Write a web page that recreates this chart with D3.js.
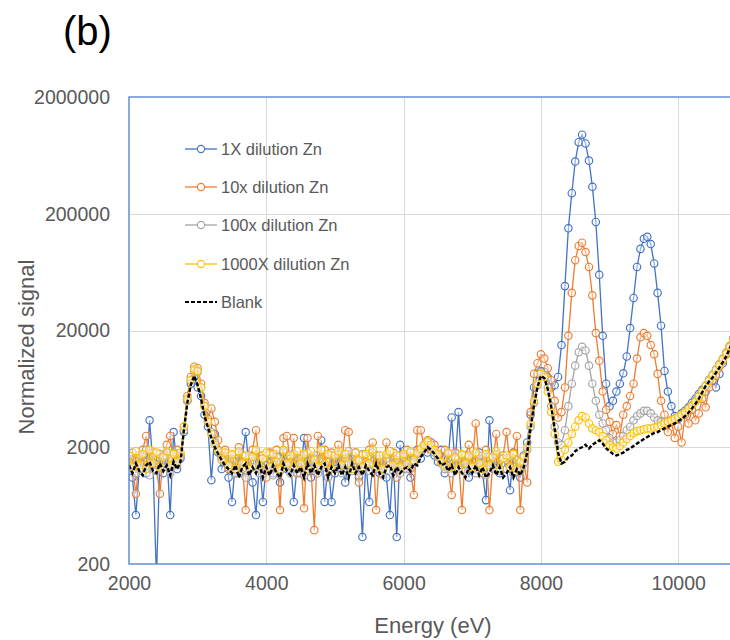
<!DOCTYPE html>
<html>
<head>
<meta charset="utf-8">
<script src="https://cdn.jsdelivr.net/npm/d3@7"></script>
<style>
  body { margin: 0; background: #fff; }
  text { font-family: "Liberation Sans", Arial, sans-serif; }
</style>
</head>
<body>
<svg id="chart" width="730" height="640"></svg>
<script>
// energy grid, 50 eV steps from 2000 to 10800 eV
const energy = d3.range(2000, 10801, 50);

// 1X dilution Zn
const zn1x = [
  1500,1100,525,1300,1700,1200,3400,1400,150,1600,
  1200,1800,525,2700,1300,1600,2700,5000,7000,8000,
  6500,5500,3800,3000,1045,2600,1800,1300,1600,1100,
  680,1500,1200,1700,2700,1300,1000,525,1500,680,
  1400,1700,1200,1500,1000,1800,1300,1600,680,1400,
  1200,2400,1500,1100,1600,1300,2300,680,1500,680,
  1200,1700,1400,1000,1600,1300,1800,1100,340,1500,
  680,1400,1700,1200,1500,1100,525,1600,340,2100,
  1300,1700,1100,1500,1900,1600,2100,1800,2200,1700,
  1500,1900,1200,1600,3600,1400,4000,1300,1700,1100,
  1500,1300,1800,1200,705,3400,1400,1700,1200,1600,
  1300,857,1800,1400,1100,1700,2200,3800,6500,8500,
  9000,8800,8000,6500,6800,8000,15000,48000,150000,300000,
  560000,820000,950000,800000,570000,340000,170000,60000,18000,7000,
  4500,5000,6000,7000,8600,12000,21000,38000,70000,100000,
  122000,127000,110000,75000,42000,22000,9000,6000,4500,3700,
  3500,3900,4100,4400,4800,5200,5700,6200,6000,7000,
  7500,6500,8500,10500,12500,14500,17000
];

// 10x dilution Zn
const zn10x = [
  1700,1400,800,1600,1900,2500,1500,1800,1300,800,
  1700,2100,2500,1400,1900,1700,3000,5500,8000,9800,
  9500,7000,4800,3500,4300,3300,2300,1600,1900,1300,
  1700,1200,2000,1500,580,1600,1900,2800,1300,1700,
  1100,1800,1400,1900,580,2400,2500,1500,2400,1200,
  1700,600,2400,1400,390,2500,1600,1900,1100,1800,
  1400,2100,1500,2800,2700,1300,1800,1000,1700,1500,
  1900,2200,580,1600,1300,2200,1500,1800,1100,1700,
  1400,1900,1300,780,2800,2800,2000,2300,1900,2100,
  1700,1500,1900,1300,780,1800,1600,580,1700,2100,
  1400,3200,1600,1200,1900,580,1500,2600,1300,1700,
  2700,1400,1800,2500,580,1500,1000,4000,8500,10500,
  12500,11500,9500,7500,5000,3600,4000,6500,18000,42000,
  80000,106000,113000,94000,70000,40000,19000,11000,6000,4200,
  3300,2600,3100,2500,3800,4500,5500,7000,11500,17500,
  19000,18000,15000,12500,8500,5000,3800,2700,3300,2400,
  3000,2200,3800,3200,4200,3400,3900,5200,4400,6500,
  7500,8200,9800,11000,12500,14000,17000
];

// 100x dilution Zn
const zn100x = [
  1500,1800,1200,1700,1300,1900,1150,1650,1250,1750,
  1350,1700,1200,1800,1400,1650,2800,5000,7500,9000,
  8800,6500,4500,3300,2700,2200,1900,1600,1500,1350,
  1600,1200,1800,1300,1100,1700,1350,1850,1200,1600,
  1300,1750,1150,1650,1250,1850,1400,1200,1750,1300,
  1600,1150,1800,1300,1700,1200,1900,1350,1100,1700,
  1300,1750,1200,1600,1850,1250,1550,1150,1750,1400,
  1250,1800,1300,1700,1150,1600,1850,1250,1550,1200,
  1650,1300,1800,1450,1750,1900,2050,2200,2000,1800,
  1650,1450,1300,1750,1200,1600,1350,1700,1250,1650,
  1350,1200,1700,1450,1150,1650,1300,1750,1250,1600,
  1300,1650,1200,1550,1250,1450,1900,3000,4800,6800,
  8800,8300,6500,4500,3000,2200,2100,2800,4500,7000,
  10000,13000,14500,13500,10000,7000,5000,3800,3200,2800,
  2400,2200,2200,2300,2500,2800,3000,3400,3700,3900,
  4100,4100,3900,3600,3400,3300,3300,3350,3400,3500,
  3650,3800,4000,4300,4600,5000,5500,6100,6800,7600,
  8400,9300,10300,11500,13000,14800,16800
];

// 1000X dilution Zn
const zn1000x = [
  1700,1350,1850,1400,1750,1300,1900,1450,1800,1350,
  1650,1850,1400,1750,1500,1800,3000,5200,7500,9300,
  9000,6500,4500,3300,2600,2100,1850,1550,1800,1400,
  1750,1300,1850,1450,1700,1300,1650,1900,1400,1600,
  1800,1350,1750,1500,1300,1900,1450,1700,1350,1850,
  1450,1750,1300,1850,1550,1350,1900,1450,1750,1300,
  1700,1850,1400,1750,1450,1300,1800,1550,1350,1750,
  1450,1900,1350,1700,1300,1750,1850,1400,1700,1350,
  1750,1450,1850,1550,1800,1950,2100,2250,2100,1900,
  1750,1500,1400,1800,1350,1650,1300,1750,1450,1700,
  1350,1800,1450,1300,1750,1400,1650,1850,1300,1600,
  1700,1350,1750,1300,1500,1650,2000,3200,5000,7000,
  8500,8000,6000,4000,2600,1500,1550,1900,2200,2600,
  3000,3400,3700,3600,3200,2900,2800,2700,2500,2300,
  2100,2000,1950,2050,2200,2350,2500,2650,2750,2800,
  2850,2900,2900,2950,3000,3100,3200,3300,3400,3500,
  3650,3800,4000,4250,4550,4900,5400,6000,6700,7400,
  8200,9100,10100,11300,12700,14500,16500
];

// Blank
const blank = [
  1400,1200,1450,1250,1150,1400,1500,1250,1200,1450,
  1250,1400,1150,1500,1300,1500,2800,4800,6800,8200,
  6800,5200,3700,2950,2400,2000,1750,1550,1400,1300,
  1200,1400,1100,1350,1450,1150,1350,1200,1450,1100,
  1350,1150,1400,1200,1100,1450,1250,1150,1400,1200,
  1350,1100,1450,1200,1400,1150,1350,1450,1100,1350,
  1200,1400,1150,1350,1100,1450,1200,1350,1150,1400,
  1250,1150,1450,1200,1100,1350,1400,1150,1350,1200,
  1300,1350,1250,1450,1400,1650,1800,2000,1900,1750,
  1600,1400,1450,1250,1400,1150,1350,1200,1100,1350,
  1200,1400,1150,1350,1100,1200,1400,1150,1350,1100,
  1200,1350,1100,1300,1150,1350,1800,2900,4600,6500,
  8200,7800,6300,4500,2900,1800,1450,1500,1650,1700,
  1850,1950,2000,2100,1950,2100,2200,2300,2150,1950,
  1850,1750,1700,1750,1800,1900,1950,2050,2150,2250,
  2350,2450,2550,2650,2700,2800,2900,3000,3100,3200,
  3350,3500,3700,3950,4300,4700,5200,5900,6700,7300,
  7900,8700,9600,10700,12000,14000,16500
];

const seriesNames = ['1X dilution Zn', '10x dilution Zn', '100x dilution Zn', '1000X dilution Zn', 'Blank'];
const seriesValues = [zn1x, zn10x, zn100x, zn1000x, blank];
const seriesColors = ['#4472c4', '#ed7d31', '#a5a5a5', '#ffc000', '#000000'];

const yTicks = [200, 2000, 20000, 200000, 2000000];
const xTicks = [2000, 4000, 6000, 8000, 10000];

// layout
const plotLeft = 129, plotTop = 97, plotBottom = 564;
const svg = d3.select('#chart');

const x = d3.scaleLinear().domain([2000, 12000]).range([plotLeft, 815.5]);
const y = d3.scaleLog().domain([200, 2000000]).range([plotBottom, plotTop]);

svg.append('text')
  .attr('x', 63).attr('y', 45)
  .attr('font-size', 40)
  .attr('fill', '#000')
  .text('(b)');

// gridlines
const grid = svg.append('g').attr('stroke', '#d9d9d9').attr('stroke-width', 1);
grid.selectAll('.hg')
  .data(yTicks.slice(1, -1))
  .enter().append('line')
  .attr('x1', plotLeft).attr('x2', 815)
  .attr('y1', d => Math.round(y(d)) + 0.5).attr('y2', d => Math.round(y(d)) + 0.5);
grid.selectAll('.vg')
  .data(xTicks.slice(1))
  .enter().append('line')
  .attr('y1', plotTop).attr('y2', plotBottom)
  .attr('x1', d => Math.round(x(d)) + 0.5).attr('x2', d => Math.round(x(d)) + 0.5);

// axes (labels only)
const yAxis = svg.append('g')
  .attr('transform', `translate(${plotLeft},0)`)
  .call(d3.axisLeft(y).tickValues(yTicks).tickFormat(d3.format('d')).tickSize(0).tickPadding(19));
const xAxis = svg.append('g')
  .attr('transform', `translate(0,${plotBottom})`)
  .call(d3.axisBottom(x).tickValues(xTicks).tickFormat(d3.format('d')).tickSize(0).tickPadding(12));
[yAxis, xAxis].forEach(a => {
  a.select('.domain').remove();
  a.selectAll('text')
    .attr('font-size', 19.5)
    .attr('font-family', '"Liberation Sans", Arial, sans-serif')
    .attr('fill', '#595959');
});

// series
svg.append('clipPath').attr('id', 'plotclip')
  .append('rect').attr('x', plotLeft).attr('y', plotTop).attr('width', 700).attr('height', plotBottom - plotTop);

const plot = svg.append('g').attr('clip-path', 'url(#plotclip)');
const line = d3.line().x(d => x(d[0])).y(d => y(d[1]));

seriesValues.forEach((vals, k) => {
  const pts = energy.map((e, i) => [e, vals[i]]);
  const isBlank = k === 4;
  plot.append('path')
    .datum(pts)
    .attr('fill', 'none')
    .attr('stroke', seriesColors[k])
    .attr('stroke-width', isBlank ? 2.4 : 1.3)
    .attr('stroke-dasharray', isBlank ? '4,2' : null)
    .attr('d', line);
  if (!isBlank) {
    plot.append('g').selectAll('circle')
      .data(pts)
      .enter().append('circle')
      .attr('cx', d => x(d[0]))
      .attr('cy', d => y(d[1]))
      .attr('r', 3.7)
      .attr('fill', '#fff')
      .attr('fill-opacity', 0.45)
      .attr('stroke', seriesColors[k])
      .attr('stroke-width', 1.15);
  }
});

// plot area border
svg.append('rect')
  .attr('x', plotLeft).attr('y', plotTop)
  .attr('width', 815 - plotLeft).attr('height', plotBottom - plotTop)
  .attr('fill', 'none')
  .attr('stroke', '#5b86cf')
  .attr('stroke-width', 1.4);

// legend
const legend = svg.append('g');
const legY = [149, 187, 225, 264, 302];
seriesNames.forEach((name, k) => {
  const g = legend.append('g').attr('transform', `translate(0,${legY[k]})`);
  g.append('line')
    .attr('x1', 185).attr('x2', 217)
    .attr('stroke', seriesColors[k])
    .attr('stroke-width', k === 4 ? 2 : 1.3)
    .attr('stroke-dasharray', k === 4 ? '4,2' : null);
  if (k < 4) {
    g.append('circle')
      .attr('cx', 201).attr('r', 3.6)
      .attr('fill', '#fff')
      .attr('stroke', seriesColors[k])
      .attr('stroke-width', 1.1);
  }
  g.append('text')
    .attr('x', 221).attr('dy', '0.35em')
    .attr('font-size', 16.5)
    .attr('fill', '#595959')
    .text(name);
});

// axis titles
svg.append('text')
  .attr('x', 433).attr('y', 633)
  .attr('text-anchor', 'middle')
  .attr('font-size', 22)
  .attr('fill', '#595959')
  .text('Energy (eV)');

svg.append('text')
  .attr('transform', 'translate(26,347) rotate(-90)')
  .attr('text-anchor', 'middle')
  .attr('dominant-baseline', 'central')
  .attr('font-size', 22)
  .attr('fill', '#595959')
  .text('Normalized signal');
</script>
</body>
</html>
